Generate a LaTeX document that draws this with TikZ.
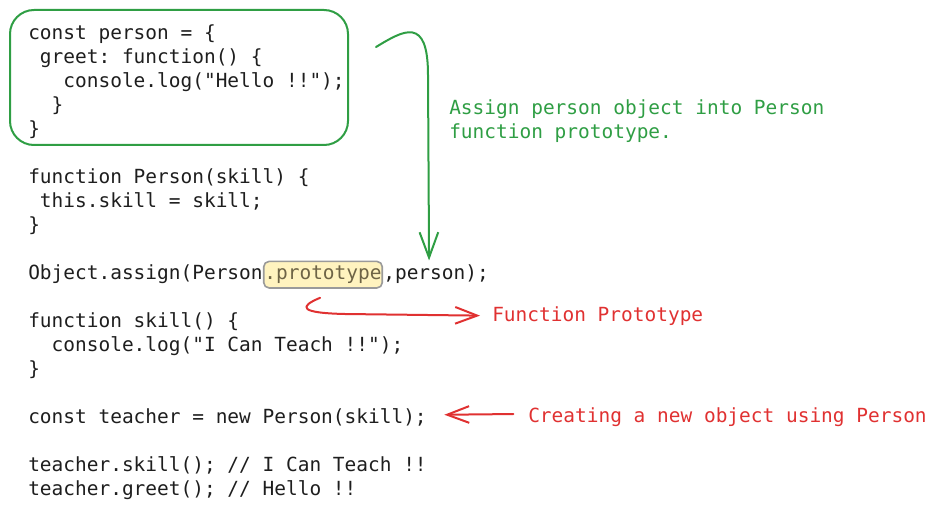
\documentclass[tikz,border=0pt]{standalone}
\usepackage{fontspec}
\newfontfamily\codefont{DejaVu Sans Mono}
\usepackage{tikz}
\usetikzlibrary{arrows.meta,positioning}

\definecolor{codeink}{HTML}{1E1E1E}
\definecolor{greenink}{HTML}{2F9E44}
\definecolor{redink}{HTML}{E03131}
\definecolor{protofill}{HTML}{FFF3BF}
\definecolor{protoline}{HTML}{9A9A9A}
\definecolor{protoink}{HTML}{6E6446}

\tikzset{
  code/.style={font=\codefont\fontsize{14.6pt}{18pt}\selectfont\frenchspacing, text=codeink, anchor=base west, inner sep=0pt},
  greennote/.style={code, text=greenink},
  rednote/.style={code, text=redink},
  protobox/.style={code, draw=protoline, fill=protofill, text=protoink, line width=1.2pt, rounded corners=4pt, inner xsep=0.5pt, inner ysep=3.3pt},
  greenarrow/.style={draw=greenink, line width=1.5pt, line cap=round, line join=round, -{Straight Barb[length=19pt,width=14pt]}},
  redarrow/.style={draw=redink, line width=1.5pt, line cap=round, line join=round, -{Straight Barb[length=16.5pt,width=12.5pt]}}
}

\begin{document}
\begin{tikzpicture}[x=0.75pt, y=-0.75pt]
  \useasboundingbox (0,0) rectangle (936,510);

  \draw[greenink, line width=1.5pt, rounded corners=18pt] (10,10) rectangle (348,145);

  \node[code] (cl0) at (28,39.5) {const person = \{};
  \node[code] (cl1) at (28,63.5) {\phantom{x}greet: function() \{};
  \node[code] (cl2) at (28,87.5) {\phantom{xxx}console.log("Hello !!");};
  \node[code] (cl3) at (28,111.5) {\phantom{xx}\}};
  \node[code] (cl4) at (28,135.5) {\}};

  \node[code] (cl6) at (28,183.5) {function Person(skill) \{};
  \node[code] (cl7) at (28,207.5) {\phantom{x}this.skill = skill;};
  \node[code] (cl8) at (28,231.5) {\}};

  \node[code] (cl10) at (28,279.5) {Object.assign(Person};
  \node[protobox] (proto) at (cl10.base east) {.prototype};
  \node[code] (rest) at (proto.base east) {,person);};

  \node[code] (cl12) at (28,327.5) {function skill() \{};
  \node[code] (cl13) at (28,351.5) {\phantom{xx}console.log("I Can Teach !!");};
  \node[code] (cl14) at (28,375.5) {\}};

  \node[code] (cl16) at (28,423.5) {const teacher = new Person(skill);};

  \node[code] (cl18) at (28,471.5) {teacher.skill(); // I Can Teach !!};
  \node[code] (cl19) at (28,495.5) {teacher.greet(); // Hello !!};

  \node[greennote] (assign1) at (449,114) {Assign person object into Person};
  \node[greennote] (assign2) at (449,138) {function prototype.};
  \node[rednote] (fproto) at (492,321) {Function Prototype};
  \node[rednote] (create) at (528,422) {Creating a new object using Person};

  \coordinate (gstart) at (376,47);
  \draw[greenarrow] (gstart) .. controls (404,30) and (428,16) .. (428,75) -- ([xshift=34.5pt,yshift=3pt]rest.north west);
  \draw[redarrow] ([xshift=-2.2pt,yshift=-6.8pt]proto.south) .. controls (298,307) and (300,313) .. (345,314) -- ([xshift=-9pt]fproto.west);
  \draw[redarrow] ([xshift=-11pt,yshift=2pt]create.west) -- ([xshift=13pt,yshift=2pt]cl16.east);
\end{tikzpicture}
\end{document}
